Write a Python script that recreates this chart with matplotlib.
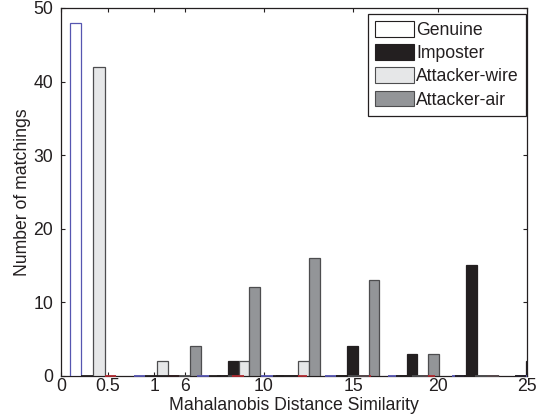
import matplotlib
matplotlib.use("Agg")
import matplotlib.pyplot as plt
from matplotlib.patches import Patch

plt.rcParams['font.family'] = ['Liberation Sans', 'DejaVu Sans']

# ---- data ----
series = ["Genuine", "Imposter", "Attacker-wire", "Attacker-air"]

# first group of bins (small distances)
set1_x = [1.72, 5.14, 8.56, 11.97, 15.39, 18.81, 22.23, 25.64]
set1_genuine = [48, 0, 0, 0, 0, 0, 0, 0]
set1_imposter = [0, 0, 0, 0, 0, 0, 0, 0]
set1_wire = [42, 2, 0, 0, 0, 0, 0, 0]
set1_air = [0, 0, 0, 0, 0, 0, 0, 0]

# second group of bins (large distances)
set2_x = [6.33, 9.53, 12.72, 15.92, 19.12, 22.32, 25.51]
set2_genuine = [0, 0, 0, 0, 0, 0, 0]
set2_imposter = [0, 2, 0, 4, 3, 15, 2]
set2_wire = [0, 2, 2, 0, 0, 0, 0]
set2_air = [4, 12, 16, 13, 3, 0, 0]

xtick_pos = [0, 2.5, 5.0, 6.63, 10.89, 15.68, 20.24, 25]
xtick_labels = ["0", "0.5", "1", "6", "10", "15", "20", "25"]
yticks = [0, 10, 20, 30, 40, 50]

face = ["#ffffff", "#231f20", "#e6e7e8", "#939598"]
edge_set1 = ["#5656b0", "#231f20", "#4d4d4f", "#b02a30"]
edge_set2 = ["#231f20", "#231f20", "#4d4d4f", "#4d4d4f"]
txt = "#231f20"
FS = 12.7

fig = plt.figure(figsize=(5.39, 4.19), dpi=100)
ax = fig.add_axes([61/539, (419-375.7)/419, 466/539, 367.7/419])


def grouped(xs, cols, edges, spacing):
    w = 0.1818 * spacing
    offs = [-1.5, -0.5, 0.5, 1.5]
    for i, vals in enumerate(cols):
        pos = [x + offs[i] * w for x in xs]
        ax.bar(pos, vals, width=w, color=face[i], edgecolor=edges[i],
               linewidth=0.9, zorder=3)
        # zero-height bars still show their edge along the baseline
        for p, v in zip(pos, vals):
            if v == 0 and p - w / 2 < 25:
                ax.hlines(0, p - w / 2, min(p + w / 2, 25), colors=edges[i],
                          linewidth=1.3, zorder=4, clip_on=False)


grouped(set1_x, [set1_genuine, set1_imposter, set1_wire, set1_air],
        edge_set1, 3.417)
grouped(set2_x, [set2_genuine, set2_imposter, set2_wire, set2_air],
        edge_set2, 3.197)

ax.set_xlim(0, 25)
ax.set_ylim(0, 50)
ax.set_xticks(xtick_pos)
ax.set_xticklabels(xtick_labels)
ax.set_yticks(yticks)
ax.tick_params(direction='in', length=3, width=0.8, colors=txt,
               labelsize=FS, top=True, right=True)
ax.tick_params(axis='x', pad=2)
ax.tick_params(axis='y', pad=5.5)
for sp in ax.spines.values():
    sp.set_color(txt)
    sp.set_linewidth(0.9)
    sp.set_zorder(2)

ax.set_xlabel("Mahalanobis Distance Similarity", fontsize=FS, color=txt,
              labelpad=1)
ax.set_ylabel("Number of matchings", fontsize=FS, color=txt, labelpad=2)

handles = [Patch(facecolor=face[i], edgecolor="#231f20" if i < 2 else "#4d4d4f",
                 linewidth=0.8, label=series[i]) for i in range(4)]
leg = ax.legend(handles=handles, loc='upper right',
                bbox_to_anchor=(0.998, 0.984), fontsize=FS, frameon=True,
                fancybox=False, edgecolor=txt, framealpha=1,
                borderpad=0.4, handlelength=2.25, handleheight=1.0,
                handletextpad=0.12, labelspacing=0.3, borderaxespad=0)
leg.get_frame().set_linewidth(0.9)
for t in leg.get_texts():
    t.set_color(txt)

fig.savefig("out.png", dpi=100)
